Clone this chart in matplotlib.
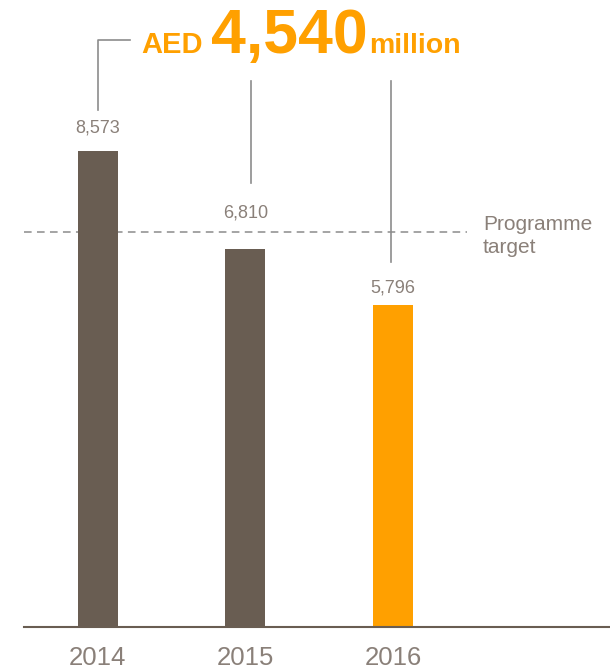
import matplotlib
matplotlib.use('Agg')
import matplotlib.pyplot as plt

# Data
years = ['2014', '2015', '2016']
costs = [8573, 6810, 5796]
value_labels = ['8,573', '6,810', '5,796']
label_gap_px = [23, 36, 17]
bar_colors = ['#695D52', '#695D52', '#FFA000']
target = 7110
saving_text = '4,540'

plt.rcParams['font.family'] = ['Liberation Sans', 'DejaVu Sans']

TEXT_GREY = '#8A8079'
LINE_GREY = '#8C8C8C'
ORANGE = '#FFA000'

fig = plt.figure(figsize=(6.10, 6.71), dpi=100)
ax = fig.add_axes([24 / 610, 44 / 671, 586 / 610, 627 / 671])

px = 627 / 11293  # pixels per data unit, vertically

x = range(len(years))
ax.bar(x, costs, width=0.27, color=bar_colors, zorder=2)
ax.set_xlim(-0.5, 3.47)
ax.set_ylim(0, 11293)

for xi, v, lab, gap in zip(x, costs, value_labels, label_gap_px):
    ax.text(xi, v + gap / px, lab, ha='center', va='center',
            fontsize=13, color=TEXT_GREY)

# programme target line
ax.plot([-0.5, 2.5], [target, target], color=LINE_GREY, lw=1.1,
        ls=(0, (5, 3.5)), zorder=1)
ax.text(2.61, target - 4 / px, 'Programme\ntarget', ha='left', va='center',
        fontsize=15, color=TEXT_GREY, linespacing=1.25)

# bracket lines from the headline down to each year
top = (627 - 40) / px
mid_top = (627 - 81) / px
ax.plot([0, 0, 0.22], [costs[0] + 740, top, top], color=LINE_GREY, lw=1.2)
ax.plot([1.035, 1.035], [mid_top, costs[1] + 1190], color=LINE_GREY, lw=1.2)
ax.plot([1.985, 1.985], [mid_top, costs[2] + 775], color=LINE_GREY, lw=1.2)

# headline
base_y = (671 - 53) / 671
fig.text(141 / 610, base_y, 'AED', color=ORANGE, fontsize=21,
         fontweight='bold', va='baseline')
fig.text(211 / 610, base_y, saving_text, color=ORANGE, fontsize=45,
         fontweight='bold', va='baseline')
fig.text(369 / 610, base_y, 'million', color=ORANGE, fontsize=20.5,
         fontweight='bold', va='baseline')

ax.set_xticks(list(x))
ax.set_xticklabels(years, fontsize=18.5, color=TEXT_GREY)
ax.tick_params(axis='x', length=0, pad=14)
ax.set_yticks([])
for s in ['top', 'right', 'left']:
    ax.spines[s].set_visible(False)
ax.spines['bottom'].set_color('#695D52')
ax.spines['bottom'].set_linewidth(1.5)

fig.savefig('out.png', dpi=100)
